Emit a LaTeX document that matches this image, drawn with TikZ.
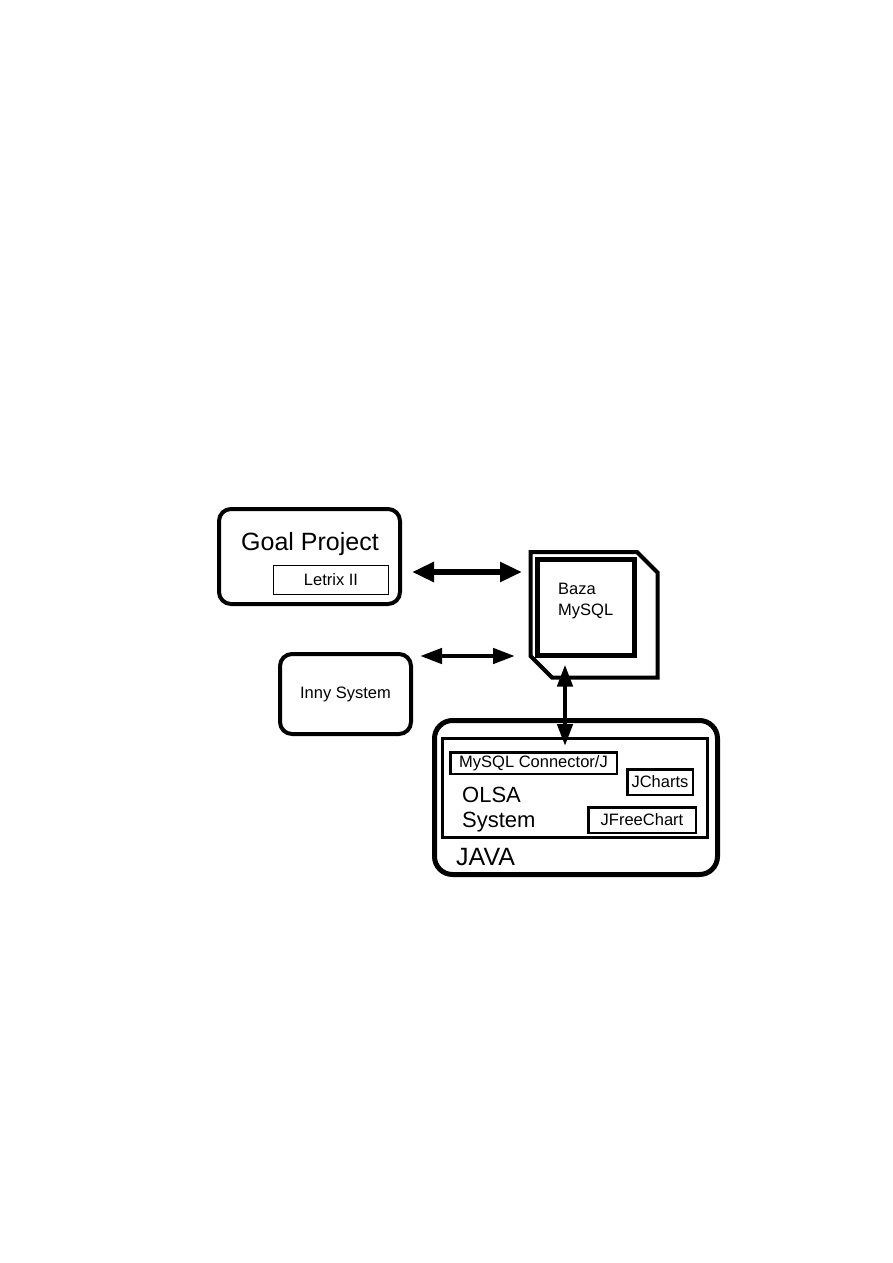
\documentclass[tikz,border=0pt]{standalone}
\usepackage{fontspec}
\setmainfont{Liberation Sans}
\usetikzlibrary{arrows.meta,positioning}
\tikzset{
  sysbox/.style={draw, rounded corners=12pt, line width=4pt, inner sep=0pt,
    font=\fontsize{16.5}{20}\selectfont},
  javabox/.style={sysbox, rounded corners=18pt, line width=5pt},
  modbox/.style={draw, line width=2.5pt, inner sep=0pt,
    font=\fontsize{16.5}{20}\selectfont},
  dbbox/.style={draw, line width=5pt, inner sep=0pt},
  bigtxt/.style={font=\fontsize{25}{30}\selectfont, inner sep=0pt},
  midtxt/.style={font=\fontsize{22}{24.5}\selectfont, inner sep=0pt, align=left},
  smalltxt/.style={font=\fontsize{16.5}{21}\selectfont, inner sep=0pt, align=left},
  linkarrow/.style={{Triangle[length=22pt,width=19pt]}-{Triangle[length=22pt,width=19pt]},
    line width=5.5pt},
  thinlink/.style={{Triangle[length=22pt,width=15pt]}-{Triangle[length=22pt,width=15pt]},
    line width=4.5pt}
}

\begin{document}
\begin{tikzpicture}[x=1pt,y=-1pt]
  \useasboundingbox (0,0) rectangle (893,1263);
  % systems on the left
  \node[sysbox, minimum width=181pt, minimum height=95pt] (goal) at (309.5,556.5) {};
  \node[bigtxt, anchor=base] (goaltitle) at (310,550) {Goal Project};
  \node[modbox, line width=1.5pt, minimum width=115pt, minimum height=29pt] (letrix) at (331,580) {Letrix II};
  \node[sysbox, minimum width=131pt, minimum height=80pt] (inny) at (345.5,694) {Inny System};
  % database
  \node[dbbox, minimum width=97.5pt, minimum height=96pt] (db) at (586,607) {};
  \node[smalltxt, anchor=base west] (dbtxt) at (558,615) {Baza\\MySQL};
  \coordinate (dbnw) at (530.5,552);
  \coordinate (dbne) at (637,552);
  \coordinate (dbe) at (657.5,572.5);
  \coordinate (dbse) at (657.5,677.5);
  \coordinate (dbs) at (552,677.5);
  \coordinate (dbw) at (530.5,656);
  \draw[line width=4pt, line join=miter] (dbnw) -- (dbne) -- (dbe) -- (dbse) -- (dbs) -- (dbw) -- cycle;
  % java side
  \node[javabox, minimum width=283pt, minimum height=154pt] (java) at (576,797.5) {};
  \node[draw, line width=3pt, minimum width=265pt, minimum height=99pt] (olsa) at (575,788) {};
  \node[modbox, minimum width=166.5pt, minimum height=21.5pt] (conn) at (533.5,763) {MySQL Connector/J};
  \node[modbox, minimum width=65.5pt, minimum height=25.5pt] (jcharts) at (660,782) {JCharts};
  \node[modbox, minimum width=107.5pt, minimum height=25.5pt] (jfree) at (642,820) {JFreeChart};
  \node[midtxt, anchor=base west] (olsatxt) at (462,827) {OLSA\\System};
  \node[bigtxt, anchor=base west] (javatxt) at (456,865) {JAVA};
  % links
  \coordinate (goalport) at ([yshift=-15.5pt]goal.east);
  \coordinate (innyport) at ([yshift=38pt]inny.east);
  \coordinate (dbport) at ([xshift=-21pt]db.south);
  \draw[linkarrow, shorten <=10pt, shorten >=8.5pt] (goalport) -- (goalport -| dbnw);
  \draw[thinlink, shorten <=7pt, shorten >=15.5pt] (innyport) -- (innyport -| dbnw);
  \draw[thinlink, shorten <=7pt, shorten >=5pt] (dbport) -- (dbport |- conn.north);
\end{tikzpicture}
\end{document}
